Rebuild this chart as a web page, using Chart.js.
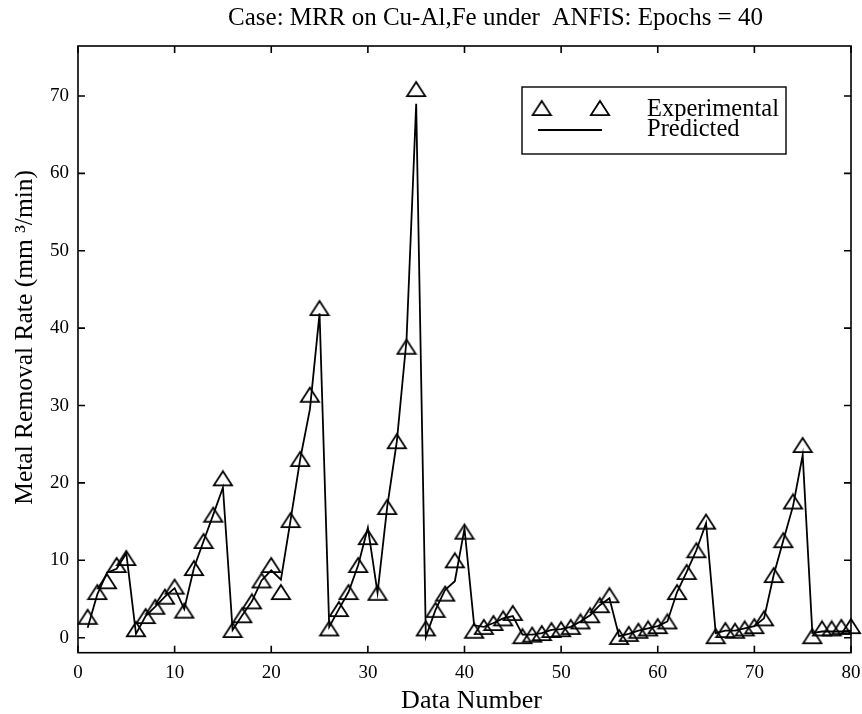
<!DOCTYPE html>
<html><head><meta charset="utf-8">
<script src="https://cdn.jsdelivr.net/npm/chart.js@4/dist/chart.umd.min.js"></script>
<style>html,body{margin:0;padding:0;background:#fff}#wrap{width:862px;height:714px}</style>
</head><body><div id="wrap"><canvas id="c" width="862" height="714"></canvas></div>
<script>
const titleText = 'Case: MRR on Cu-Al,Fe under  ANFIS: Epochs = 40';
const xLabel = 'Data Number';
const yLabel = 'Metal Removal Rate (mm \u00B3/min)';
const seriesNames = ['Experimental', 'Predicted'];
const dataNumber = [1,2,3,4,5,6,7,8,9,10,11,12,13,14,15,16,17,18,19,20,21,22,23,24,25,26,27,28,29,30,31,32,33,34,35,36,37,38,39,40,41,42,43,44,45,46,47,48,49,50,51,52,53,54,55,56,57,58,59,60,61,62,63,64,65,66,67,68,69,70,71,72,73,74,75,76,77,78,79,80];
const experimental = [2.7,5.9,7.3,9.4,10.3,1.1,2.8,4.0,5.3,6.6,
  3.5,9.0,12.5,15.9,20.6,1.0,2.9,4.7,7.4,9.4,
  5.9,15.2,23.1,31.4,42.6,1.2,3.7,5.9,9.4,13.0,
  5.8,16.9,25.4,37.6,70.9,1.2,3.6,5.7,10.0,13.7,
  0.9,1.4,1.9,2.5,3.2,0.2,0.4,0.6,1.0,1.1,
  1.4,2.1,2.9,4.2,5.5,0.1,0.5,0.9,1.2,1.5,
  2.1,5.9,8.5,11.3,15.0,0.2,1.0,0.9,1.2,1.5,
  2.5,8.1,12.6,17.6,24.9,0.2,1.2,1.2,1.4,1.5];
const predicted = [1.3,5.6,8.4,8.9,10.9,0.5,2.8,4.0,5.3,6.4,
  3.7,9.0,12.5,15.9,19.4,1.0,2.9,4.7,7.4,8.7,
  7.5,15.2,23.1,29.5,41.9,1.4,3.7,5.9,9.4,14.2,
  5.8,16.9,25.4,38.5,69.0,0.1,3.6,6.2,7.3,14.1,
  1.6,1.4,1.9,2.5,2.8,0.4,0.4,0.6,1.0,1.1,
  1.4,2.1,2.9,4.2,5.1,0.2,0.5,0.9,1.2,1.5,
  2.1,5.9,8.5,11.3,14.8,0.6,0.9,0.9,1.2,1.5,
  2.5,8.1,12.6,17.0,23.6,0.6,0.8,0.8,0.8,0.9];
const xTickStep = 10;
const yTickStep = 10;

const FONT = 'Liberation Serif';
const Y_TITLE_SHIFT = 12;
const X_TITLE_SHIFT = 7;

// hollow triangle marker, bounding box centred on the point
function makeTriangle() {
  const cv = document.createElement('canvas');
  cv.width = 22; cv.height = 18;
  const g = cv.getContext('2d');
  g.strokeStyle = '#000';
  g.lineWidth = 1.8;
  g.lineJoin = 'miter';
  g.beginPath();
  g.moveTo(11, 1.9);
  g.lineTo(20.1, 16.1);
  g.lineTo(1.9, 16.1);
  g.closePath();
  g.stroke();
  return cv;
}
const tri = makeTriangle();

const framePlugin = {
  id: 'frame',
  afterLayout(chart) {
    const t = chart.titleBlock;
    if (t) { t.left = 129; }
    // move only the axis-title bands (tick mapping is already configured)
    const ys = chart.scales.y, xs = chart.scales.x;
    ys.top -= Y_TITLE_SHIFT; ys.bottom -= Y_TITLE_SHIFT;
    xs.left += X_TITLE_SHIFT; xs.right += X_TITLE_SHIFT;
  },
  beforeDatasetsDraw(chart) {
    const ys = chart.scales.y, xs = chart.scales.x;
    ys.top += Y_TITLE_SHIFT; ys.bottom += Y_TITLE_SHIFT;
    xs.left -= X_TITLE_SHIFT; xs.right -= X_TITLE_SHIFT;
  },
  afterDatasetsDraw(chart) {
    const {ctx, chartArea: a, scales} = chart;
    ctx.save();
    ctx.strokeStyle = '#000';
    ctx.lineWidth = 1.6;
    ctx.strokeRect(a.left, a.top, a.right - a.left, a.bottom - a.top);
    const L = 7;
    ctx.beginPath();
    scales.x.ticks.forEach(tk => {
      const px = scales.x.getPixelForValue(tk.value);
      ctx.moveTo(px, a.bottom); ctx.lineTo(px, a.bottom - L);
      ctx.moveTo(px, a.top); ctx.lineTo(px, a.top + L);
    });
    scales.y.ticks.forEach(tk => {
      const py = scales.y.getPixelForValue(tk.value);
      ctx.moveTo(a.left, py); ctx.lineTo(a.left + L, py);
      ctx.moveTo(a.right, py); ctx.lineTo(a.right - L, py);
    });
    ctx.stroke();

    // legend box
    const bx = a.left + 444, by = a.top + 41, bw = 264, bh = 67;
    ctx.lineWidth = 1.4;
    ctx.strokeRect(bx, by, bw, bh);
    ctx.drawImage(tri, bx + 19.7 - tri.width / 2, by + 21 - tri.height / 2);
    ctx.drawImage(tri, bx + 78 - tri.width / 2, by + 21 - tri.height / 2);
    ctx.lineWidth = 1.8;
    ctx.beginPath();
    ctx.moveTo(bx + 16, by + 43);
    ctx.lineTo(bx + 80, by + 43);
    ctx.stroke();
    ctx.fillStyle = '#000';
    ctx.font = '24.5px "' + FONT + '"';
    ctx.textAlign = 'left';
    ctx.textBaseline = 'alphabetic';
    ctx.fillText(chart.data.datasets[0].label, bx + 125, by + 29);
    ctx.fillText(chart.data.datasets[1].label, bx + 125, by + 49);
    ctx.restore();
  }
};

new Chart(document.getElementById('c'), {
  type: 'line',
  data: {
    datasets: [
      {
        label: seriesNames[0],
        data: dataNumber.map((n, i) => ({x: n, y: experimental[i]})),
        showLine: false,
        pointStyle: tri,
        pointRadius: 10,
        borderColor: '#000',
        backgroundColor: 'rgba(0,0,0,0)',
        clip: 12
      },
      {
        label: seriesNames[1],
        data: dataNumber.map((n, i) => ({x: n, y: predicted[i]})),
        borderColor: '#000',
        borderWidth: 1.8,
        pointRadius: 0,
        tension: 0,
        fill: false
      }
    ]
  },
  options: {
    responsive: false,
    animation: false,
    devicePixelRatio: 1,
    layout: {padding: {left: 0, right: 0, top: 0, bottom: 0}},
    plugins: {
      legend: {display: false},
      tooltip: {enabled: false},
      title: {
        display: true,
        text: titleText,
        color: '#000',
        font: {family: FONT, size: 25, weight: 'normal', lineHeight: 1.2},
        padding: {top: 3, bottom: 13}
      }
    },
    scales: {
      x: {
        type: 'linear',
        min: 0, max: 80,
        ticks: {stepSize: xTickStep, includeBounds: false, color: '#000', maxRotation: 0,
          font: {family: FONT, size: 19, lineHeight: 2.1}, padding: 0},
        grid: {display: false, drawTicks: false},
        border: {display: false},
        title: {display: true, text: xLabel, color: '#000',
          font: {family: FONT, size: 26, lineHeight: 1}, padding: {top: 0, bottom: 0}},
        afterFit(s) { s.height = 61.3; }
      },
      y: {
        type: 'linear',
        min: -1.94, max: 76.46,
        ticks: {stepSize: yTickStep, includeBounds: false, color: '#000',
          font: {family: FONT, size: 19, lineHeight: 1}, padding: 9},
        grid: {display: false, drawTicks: false},
        border: {display: false},
        title: {display: true, text: yLabel, color: '#000',
          font: {family: FONT, size: 25.5, lineHeight: 1}, padding: {top: 13, bottom: 0}},
        afterFit(s) { s.width = 78; }
      }
    }
  },
  plugins: [framePlugin]
});
</script>
</body></html>
